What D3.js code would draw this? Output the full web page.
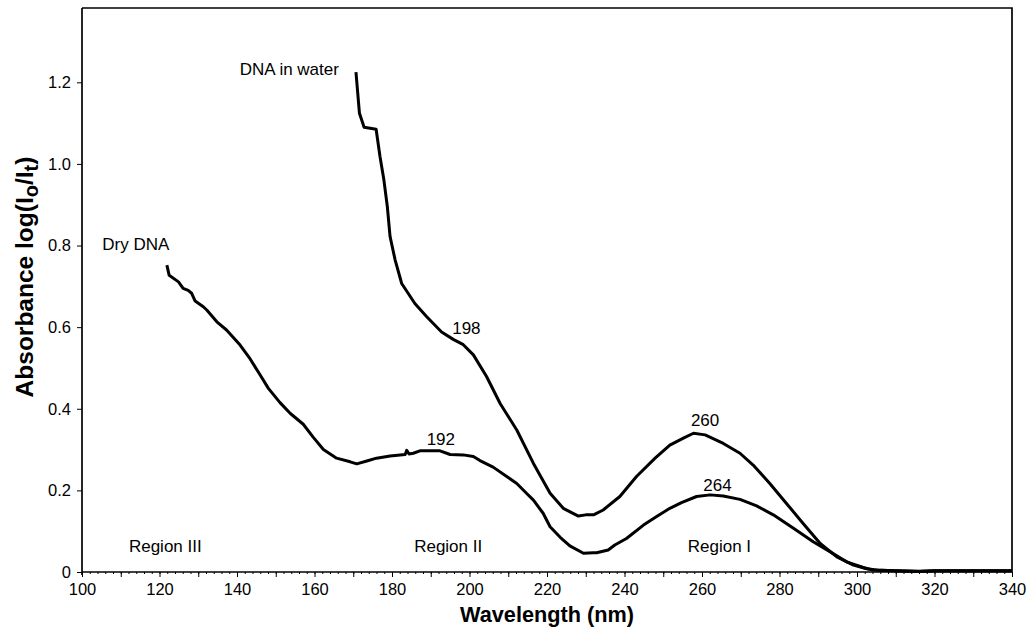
<!DOCTYPE html>
<html>
<head>
<meta charset="utf-8">
<script src="https://cdn.jsdelivr.net/npm/d3@7"></script>
<style>
  html, body { margin: 0; padding: 0; background: #fff; }
  svg text { font-family: "Liberation Sans", Arial, Helvetica, sans-serif; fill: #000; }
</style>
</head>
<body>
<svg id="chart" width="1031" height="632"></svg>
<script>
// UV absorbance spectra of DNA (wavelength in nm, absorbance)
const waterWavelength = [170.7, 171.6, 172.8, 175.9, 176.9, 177.9, 178.8, 179.5, 180.8, 182.5, 185.9, 188.9, 192.8, 195.8, 198.4, 201.0, 204.4, 207.9, 212.2, 216.5, 220.8, 224.2, 228.1, 230.0, 232.0, 234.5, 238.8, 243.1, 247.9, 251.7, 255.2, 257.8, 260.8, 265.5, 269.8, 273.2, 277.5, 281.8, 286.1, 290.5, 294.8, 299.1, 302.5, 306, 310, 316, 320, 330, 340];
const waterAbsorb = [1.225, 1.124, 1.090, 1.085, 1.018, 0.961, 0.895, 0.822, 0.765, 0.707, 0.658, 0.626, 0.588, 0.570, 0.557, 0.532, 0.479, 0.413, 0.348, 0.266, 0.193, 0.156, 0.137, 0.140, 0.140, 0.152, 0.185, 0.234, 0.279, 0.311, 0.328, 0.340, 0.336, 0.315, 0.291, 0.262, 0.217, 0.168, 0.119, 0.070, 0.037, 0.017, 0.008, 0.004, 0.003, 0.002, 0.003, 0.003, 0.003];

const dryWavelength = [121.9, 122.5, 124.9, 126.1, 127.4, 128.3, 129.2, 131.3, 132.2, 134.8, 137.3, 140.8, 143.4, 145.9, 148.1, 151.1, 153.7, 157.1, 159.7, 162.3, 165.7, 169.2, 170.9, 173.5, 176.0, 179.5, 183.4, 183.8, 184.4, 185.5, 187.2, 192.4, 195.0, 198.4, 201.0, 202.7, 206.1, 209.6, 212.2, 214.7, 216.5, 219.0, 220.8, 223.4, 225.9, 229.4, 232.0, 232.8, 235.8, 237.5, 240.5, 244.9, 248.3, 251.7, 254.7, 258.6, 262.1, 265.5, 269.8, 274.1, 278.4, 283.6, 288.7, 293.0, 297.3, 301.6, 304, 310, 316, 320, 330, 340];
const dryAbsorb = [0.752, 0.727, 0.711, 0.695, 0.690, 0.683, 0.664, 0.650, 0.642, 0.613, 0.593, 0.556, 0.522, 0.484, 0.450, 0.415, 0.389, 0.362, 0.330, 0.300, 0.279, 0.270, 0.265, 0.272, 0.279, 0.284, 0.288, 0.298, 0.289, 0.291, 0.297, 0.297, 0.288, 0.287, 0.283, 0.273, 0.257, 0.234, 0.217, 0.193, 0.176, 0.144, 0.111, 0.085, 0.064, 0.046, 0.047, 0.047, 0.054, 0.066, 0.082, 0.115, 0.136, 0.156, 0.170, 0.185, 0.189, 0.186, 0.178, 0.162, 0.140, 0.107, 0.074, 0.050, 0.025, 0.011, 0.005, 0.003, 0.001, 0.003, 0.003, 0.003];

const xTickValues = [100, 120, 140, 160, 180, 200, 220, 240, 260, 280, 300, 320, 340];
const yTickValues = [0, 0.2, 0.4, 0.6, 0.8, 1.0, 1.2];
const yTickLabels = ["0", "0.2", "0.4", "0.6", "0.8", "1.0", "1.2"];

// Curve annotations: [text, wavelength, absorbance]
const curveLabels = [
  ["DNA in water", 153.5, 1.228],
  ["Dry DNA", 113.9, 0.800],
  ["198", 199.2, 0.593],
  ["192", 192.6, 0.322],
  ["260", 260.8, 0.369],
  ["264", 264.0, 0.210]
];
const regionLabels = [["Region III", 121.5], ["Region II", 194.5], ["Region I", 264.5]];

const svg = d3.select("#chart");
const plotLeft = 82, plotRight = 1012, plotTop = 8, plotBottom = 572;

const x = d3.scaleLinear().domain([100, 340]).range([plotLeft, plotRight]);
const y = d3.scaleLinear().domain([0, 1.2]).range([plotBottom, 82.3]);

// Frame: top and right borders
svg.append("path")
  .attr("d", `M${plotLeft},${plotTop}H${plotRight}V${plotBottom}`)
  .attr("fill", "none").attr("stroke", "#000").attr("stroke-width", 1.7);

// X axis: minor ticks every 2 nm, major every 10 nm, labels every 20 nm
const xMinor = svg.append("g").attr("transform", `translate(0,${plotBottom})`)
  .call(d3.axisBottom(x).tickValues(d3.range(100, 341, 2)).tickSize(2).tickFormat(""));
xMinor.select(".domain").remove();
xMinor.selectAll("line").attr("stroke-width", 1);

const xMajor = svg.append("g").attr("transform", `translate(0,${plotBottom})`)
  .call(d3.axisBottom(x).tickValues(d3.range(100, 341, 10)).tickSize(5).tickFormat(""));
xMajor.select(".domain").attr("stroke-width", 1.7).attr("d", `M${plotLeft},0H${plotRight}`);

const xLab = svg.append("g").attr("transform", `translate(0,${plotBottom})`)
  .call(d3.axisBottom(x).tickValues(xTickValues).tickSize(0).tickPadding(11).tickFormat(d3.format("d")));
xLab.select(".domain").remove();
xLab.selectAll("text").attr("font-size", 16.5).attr("font-family", "Liberation Sans, Arial, sans-serif");

// Y axis
const yAxis = svg.append("g").attr("transform", `translate(${plotLeft},0)`)
  .call(d3.axisLeft(y).tickValues(yTickValues).tickSize(5).tickPadding(6)
    .tickFormat((d, i) => yTickLabels[i]));
yAxis.select(".domain").attr("stroke-width", 1.7).attr("d", `M0,${plotTop}V${plotBottom + 3}`);
yAxis.selectAll("text").attr("font-size", 16.5).attr("font-family", "Liberation Sans, Arial, sans-serif");

// Axis titles
svg.append("text")
  .attr("x", 547).attr("y", 622)
  .attr("text-anchor", "middle").attr("font-size", 21.7).attr("font-weight", "bold")
  .text("Wavelength (nm)");

const yTitle = svg.append("text")
  .attr("transform", "translate(33,277) rotate(-90)")
  .attr("text-anchor", "middle").attr("font-size", 24.5).attr("font-weight", "bold");
yTitle.append("tspan").text("Absorbance log(I");
yTitle.append("tspan").attr("baseline-shift", "-25%").attr("font-size", 20).text("o");
yTitle.append("tspan").text("/I");
yTitle.append("tspan").attr("baseline-shift", "-25%").attr("font-size", 20).text("t");
yTitle.append("tspan").text(")");

// Spectra
const line = d3.line().x(d => x(d[0])).y(d => y(d[1]));
const series = [
  d3.zip(waterWavelength, waterAbsorb),
  d3.zip(dryWavelength, dryAbsorb)
];
svg.selectAll("path.spectrum").data(series).join("path")
  .attr("class", "spectrum")
  .attr("d", line)
  .attr("fill", "none").attr("stroke", "#000")
  .attr("stroke-width", 3).attr("stroke-linejoin", "round");

// Annotations
svg.selectAll("text.curve-label").data(curveLabels).join("text")
  .attr("class", "curve-label")
  .attr("x", d => x(d[1])).attr("y", d => y(d[2]))
  .attr("text-anchor", "middle").attr("dominant-baseline", "middle")
  .attr("font-size", 17)
  .text(d => d[0]);

svg.selectAll("text.region-label").data(regionLabels).join("text")
  .attr("class", "region-label")
  .attr("x", d => x(d[1])).attr("y", 552)
  .attr("text-anchor", "middle")
  .attr("font-size", 17)
  .text(d => d[0]);
</script>
</body>
</html>
